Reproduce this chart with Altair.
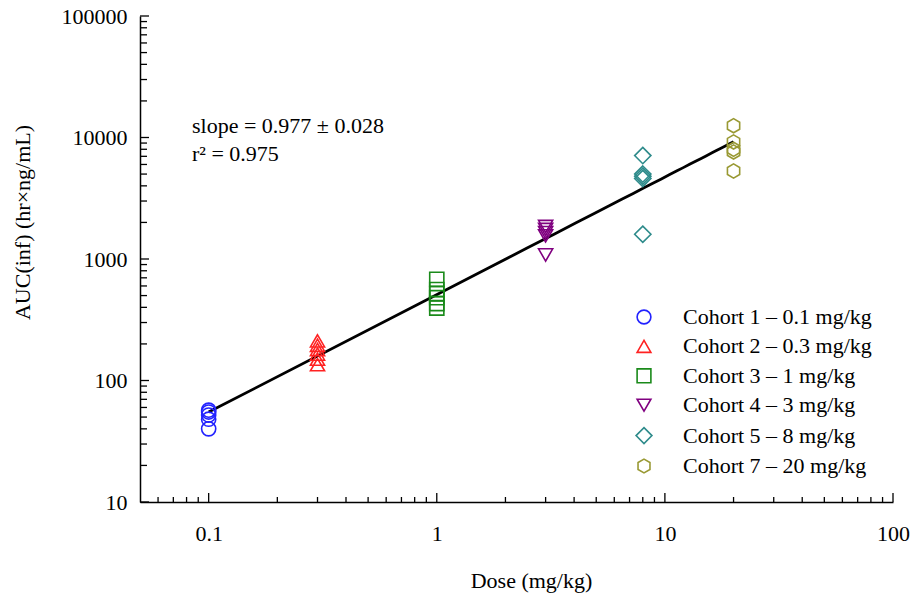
import altair as alt
import pandas as pd

# ---- data ----
cohorts = ["Cohort 1 – 0.1 mg/kg", "Cohort 2 – 0.3 mg/kg", "Cohort 3 – 1 mg/kg",
           "Cohort 4 – 3 mg/kg", "Cohort 5 – 8 mg/kg", "Cohort 7 – 20 mg/kg"]
doses = [0.1, 0.3, 1, 3, 8, 20]
auc_c1 = [40, 48, 52, 55, 57]
auc_c2 = [135, 150, 165, 180, 195, 212]
auc_c3 = [395, 430, 480, 520, 560, 680]
auc_c4 = [1080, 1550, 1650, 1750, 1850]
auc_c5 = [1600, 4600, 4800, 5000, 7100]
auc_c7 = [5300, 7600, 8000, 9200, 12500]
colors = ["#2222ff", "#ff2222", "#1a8a1a", "#800080", "#2e8b8b", "#999933"]
hexagon = "M0,-1L0.866,-0.5L0.866,0.5L0,1L-0.866,0.5L-0.866,-0.5Z"
diamond = "M0,-1.15L1.15,0L0,1.15L-1.15,0Z"
shapes = ["circle", "triangle-up", "square", "triangle-down", diamond, hexagon]
annot = ["slope = 0.977 ± 0.028", "r² = 0.975"]

x_major = [0.1, 1, 10, 100]
x_minor = [0.06, 0.07, 0.08, 0.09, 0.2, 0.3, 0.4, 0.5, 0.6, 0.7, 0.8, 0.9,
           2, 3, 4, 5, 6, 7, 8, 9, 20, 30, 40, 50, 60, 70, 80, 90]
y_major = [10, 100, 1000, 10000, 100000]
y_minor = [m * d for d in [10, 100, 1000, 10000] for m in range(2, 10)]

rows = []
for c, d, vals in zip(cohorts, doses, [auc_c1, auc_c2, auc_c3, auc_c4, auc_c5, auc_c7]):
    for v in vals:
        rows.append({"cohort": c, "dose": d, "auc": v})
df = pd.DataFrame(rows)

FONT = "Liberation Serif"
FS = 22
W, H = 753, 486
xscale = alt.Scale(type="log", domain=[0.05, 100], nice=False)
yscale = alt.Scale(type="log", domain=[10, 100000], nice=False)

xaxis = alt.Axis(values=x_major, format="~g", tickSize=0, grid=False,
                 title="Dose (mg/kg)", labelPadding=21,
                 titleX=391, titleY=78, titleBaseline="middle", titleAnchor="start",
                 titleAlign="center")
yaxis = alt.Axis(values=y_major, format="~g", tickSize=0, grid=False,
                 title="AUC(inf) (hr×ng/mL)", labelPadding=13,
                 titleX=-118, titleY=206, titleAngle=270, titleBaseline="middle",
                 titleAlign="center", titleAnchor="start")

points = alt.Chart(df).mark_point(filled=False, size=200, strokeWidth=1.6, opacity=1).encode(
    x=alt.X("dose:Q", scale=xscale, axis=xaxis),
    y=alt.Y("auc:Q", scale=yscale, axis=yaxis),
    color=alt.Color("cohort:N", scale=alt.Scale(domain=cohorts, range=colors),
                    legend=alt.Legend(title=None, orient="none", legendX=493, legendY=290,
                                      padding=0, rowPadding=7.4, labelOffset=28,
                                      labelLimit=0, symbolSize=190, symbolStrokeWidth=1.6,
                                      labelFont=FONT, labelFontSize=FS, labelColor="black")),
    shape=alt.Shape("cohort:N", scale=alt.Scale(domain=cohorts, range=shapes)),
)

line = alt.Chart(df).transform_regression("dose", "auc", method="pow").mark_line(
    color="black", strokeWidth=2.8).encode(
    x=alt.X("dose:Q", scale=xscale, axis=xaxis), y=alt.Y("auc:Q", scale=yscale, axis=yaxis))

def xticks(vals, length):
    return alt.Chart(pd.DataFrame({"dose": vals})).mark_rule(color="black", strokeWidth=1.3).encode(
        x=alt.X("dose:Q", scale=xscale, axis=xaxis), y=alt.value(H), y2=alt.value(H - length))

def yticks(vals, length):
    return alt.Chart(pd.DataFrame({"auc": vals})).mark_rule(color="black", strokeWidth=1.3).encode(
        y=alt.Y("auc:Q", scale=yscale, axis=yaxis), x=alt.value(0), x2=alt.value(length))

t1 = alt.Chart(pd.DataFrame({"t": [annot[0]]})).mark_text(
    align="left", baseline="middle", font=FONT, fontSize=FS, color="black").encode(
    text="t:N", x=alt.value(52), y=alt.value(110))
t2 = alt.Chart(pd.DataFrame({"t": [annot[1]]})).mark_text(
    align="left", baseline="middle", font=FONT, fontSize=FS, color="black").encode(
    text="t:N", x=alt.value(52), y=alt.value(138))

chart = alt.layer(
    line, points, xticks(x_major, 9), xticks(x_minor, 5), yticks(y_major, 9), yticks(y_minor, 7),
    t1, t2
).properties(
    width=W, height=H,
    autosize=alt.AutoSizeParams(type="none"),
    padding={"left": 140, "top": 16, "right": 19, "bottom": 95},
).configure_view(stroke=None).configure_axis(
    domainColor="black", domainWidth=1.5, labelFont=FONT, labelFontSize=FS,
    labelColor="black", titleFont=FONT, titleFontSize=FS, titleFontWeight="normal",
    titleColor="black", labelFlush=False, labelOverlap=False,
)

chart.save("out.html", embed_options={"renderer": "svg", "actions": False})
